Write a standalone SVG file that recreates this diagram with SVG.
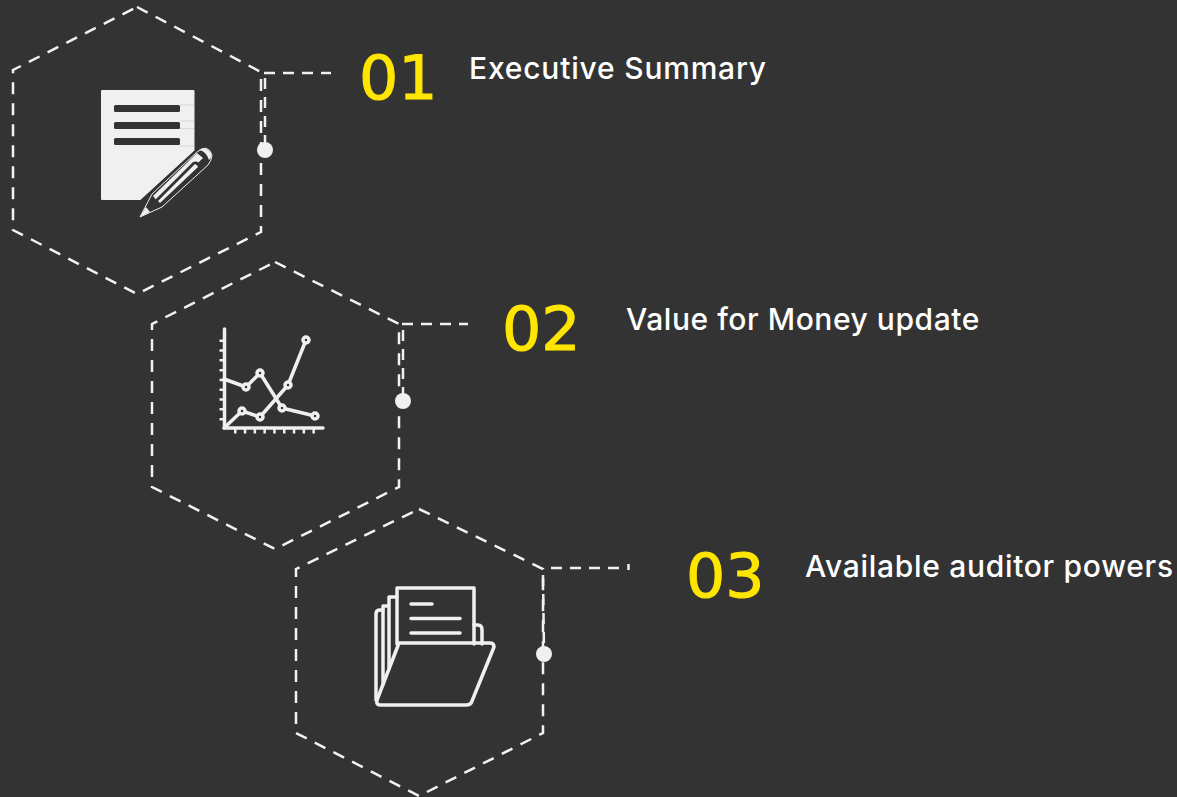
<svg xmlns="http://www.w3.org/2000/svg" width="1177" height="797" viewBox="0 0 1177 797">
<style>
.hex{fill:none;stroke:#f2f2f2;stroke-width:2.500;stroke-dasharray:12 9}
.con{fill:none;stroke:#f0f0f0;stroke-width:2.500;stroke-dasharray:11 8}
.dot{fill:#f0f0f0}
.num{font-family:"DejaVu Sans",sans-serif;font-size:60px;fill:#ffe600;stroke:#ffe600;stroke-width:1}
.lab{font-family:"Inter",sans-serif;font-size:30px;font-weight:500;fill:#fff}
.ln{fill:none;stroke:#f0f0f0;stroke-width:3.500;stroke-linecap:round;stroke-linejoin:round}
.tick{fill:none;stroke:#f0f0f0;stroke-width:5;stroke-dasharray:2.500 7.300}
.mk{fill:#333;stroke:#f0f0f0;stroke-width:3.500}
.bar{fill:#333}
.faint{fill:none;stroke:#cfcfcf;stroke-width:.7}
</style>
<rect width="1177" height="797" fill="#333"/>
<g id="connectors">
<path class="con" d="M264 73H331M265 78V150"/>
<path class="con" d="M402 324H468M403 330V400"/>
<path class="con" d="M551 568H624M628.500 564V570M543 575L544 654"/>
</g>
<g id="node-1">
<path class="hex" d="M137 7L261 72V232L137 294L13 230V70Z"/>
<circle class="dot" cx="265" cy="150" r="8"/>
<path d="M102 91H193.500V150L140 199H102Z" fill="#f0f0f0" stroke="#f0f0f0" stroke-width="2" stroke-linejoin="round"/>
<path class="faint" d="M180 105H194M180 121H194M180 128.500H194M180 146H194"/>
<rect class="bar" x="114" y="105" width="66" height="7" rx="1.500"/>
<rect class="bar" x="114" y="122" width="66" height="7" rx="1.500"/>
<rect class="bar" x="114" y="138" width="66" height="7" rx="1.500"/>
<path d="M140 217L152 194L197 152Q208 143 212 155Q212 160 208 165L162 207Z" fill="#333" stroke="#f0f0f0" stroke-width="1"/>
<path d="M153 196L197 153L203 158L158 202Z" fill="#f0f0f0"/>
<path d="M156 199L193 162Q199 160 200 166L161 204Q155 205 156 199Z" fill="#333"/>
<path d="M158 201L195 164Q197 165 198 167L160 203Z" fill="#f0f0f0"/>
<path d="M199 150Q206 146 211 153Q212 158 209 160Q206 151 199 150Z" fill="#f0f0f0"/>
<path d="M140 217L146 207L150 212Z" fill="#f0f0f0"/>
<text class="num" transform="translate(359 99) scale(1.03 1)">01</text>
<text class="lab" x="469" y="79" letter-spacing=".8">Executive Summary</text>
</g>
<g id="node-2">
<path class="hex" d="M275 262L399 324V487L275 549L152 487V324Z"/>
<circle class="dot" cx="403" cy="401" r="8"/>
<path class="ln" d="M224.500 329V428H323"/>
<path class="tick" d="M222 339.500V425"/>
<path class="tick" d="M234 431H315"/>
<path class="ln" d="M224 379L246 387L260 373L282 408L315 416"/>
<path class="ln" d="M224 428L242 411L260 417L288 385L306 340"/>
<g class="mk">
<circle cx="246" cy="387" r="3"/><circle cx="260" cy="373" r="3"/><circle cx="282" cy="408" r="3"/><circle cx="315" cy="416" r="3"/>
<circle cx="242" cy="411" r="3"/><circle cx="260" cy="417" r="3"/><circle cx="288" cy="385" r="3"/><circle cx="306" cy="340" r="3"/>
</g>
<text class="num" transform="translate(502 350) scale(1.03 1)">02</text>
<text class="lab" x="626" y="330" letter-spacing=".55">Value for Money update</text>
</g>
<g id="node-3">
<path class="hex" d="M419 509L543 569V733L419 796L296 733V569Z"/>
<circle class="dot" cx="544" cy="654" r="8"/>
<path class="ln" d="M397 644V588H474V644"/>
<path class="ln" d="M474 625H478Q482 625 482 630V644"/>
<path class="ln" d="M389 668V597H397M383 684V606H389"/>
<path class="ln" d="M383 610H380Q376 610 376 614V700"/>
<path class="ln" d="M399 643H490Q494 643 494 647L472 701Q471 705 466 705H380Q376 705 377 700Z"/>
<path class="ln" d="M411 604H432M411 618.500H460M411 633H460"/>
<text class="num" transform="translate(686 597) scale(1.03 1)">03</text>
<text class="lab" x="805" y="577" letter-spacing=".7">Available auditor powers</text>
</g>
</svg>
